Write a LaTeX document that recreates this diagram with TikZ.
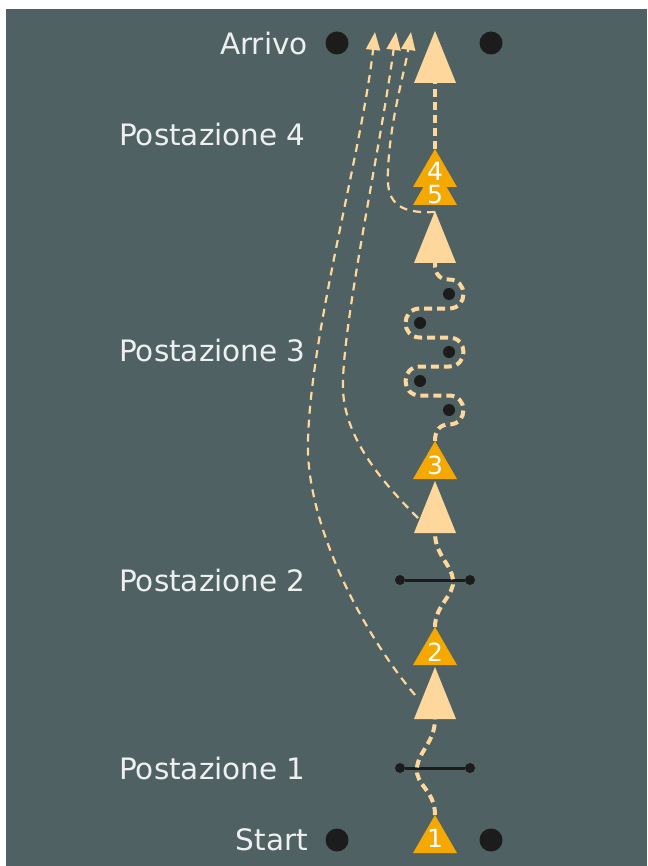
\documentclass[tikz,border=0pt]{standalone}
\usepackage{fontspec}
\setmainfont{DejaVu Sans}
\usepackage{tikz}
\usetikzlibrary{arrows.meta, calc}
\definecolor{board}{HTML}{4F6163}
\definecolor{cream}{HTML}{FDD79B}
\definecolor{amber}{HTML}{F5A900}
\definecolor{ink}{HTML}{1C1C1C}
\definecolor{chalk}{HTML}{EEF0F0}
% cone with its base centre at #1
\newcommand{\bigcone}[1]{\fill[cream] ($(#1)+(-21,0)$) -- ++(42,0) -- ($(#1)+(0,-52)$) -- cycle;}
\newcommand{\numcone}[1]{\fill[amber] ($(#1)+(-22,0)$) -- ++(44,0) -- ($(#1)+(0,-38)$) -- cycle;}

\begin{document}
\begin{tikzpicture}[x=1pt,y=-1pt,
  route/.style={cream, line width=4pt, dash pattern=on 8pt off 5pt},
  shortcut/.style={cream, line width=2.2pt, dash pattern=on 8pt off 6pt, -{Triangle[width=14pt,length=18pt]}},
  lbl/.style={chalk, font=\fontsize{29.5}{34}\selectfont, inner sep=0pt},
  num/.style={white, font=\fontsize{25}{30}\selectfont, inner sep=0pt},
  post/.style={circle, fill=ink, inner sep=0pt, minimum size=23pt},
  pin/.style={circle, fill=ink, inner sep=0pt, minimum size=10pt},
  pole/.style={circle, fill=ink, inner sep=0pt, minimum size=12pt}]

  \useasboundingbox (0,0) rectangle (647,866);
  \fill[board] (6,9) rectangle (647,866);

  % station labels
  \node[lbl, anchor=east] (arrivo) at (308,44) {Arrivo};
  \node[lbl, anchor=west] (post4) at (119,135) {Postazione 4};
  \node[lbl, anchor=west] (post3) at (119,351) {Postazione 3};
  \node[lbl, anchor=west] (post2) at (119,580) {Postazione 2};
  \node[lbl, anchor=west] (post1) at (119,768) {Postazione 1};
  \node[lbl, anchor=east] (start) at (308,840) {Start};

  % gates
  \node[post] (arrL) at (337,43) {};
  \node[post] (arrR) at (491,43) {};
  \node[post] (stL) at (337,840) {};
  \node[post] (stR) at (491,840) {};

  % bars
  \node[pin] (b1l) at (400,768) {};
  \node[pin] (b1r) at (470,768) {};
  \node[pin] (b2l) at (400,580) {};
  \node[pin] (b2r) at (470,580) {};
  \draw[ink, line width=3pt] (b1l) -- (b1r);
  \draw[ink, line width=3pt] (b2l) -- (b2r);

  % slalom poles
  \foreach \y in {294,352,410}
    \node[pole] (sr\y) at (449,\y) {};
  \foreach \y in {323,381}
    \node[pole] (sl\y) at (420,\y) {};

  % cone bases
  \coordinate (c1) at (435,853);
  \coordinate (c2) at (435,665);
  \coordinate (c3) at (435,479);
  \coordinate (c4) at (435,187);
  \coordinate (c5) at (435,205);
  \coordinate (bigA) at (435,719);
  \coordinate (bigB) at (435,533);
  \coordinate (bigC) at (435,263);
  \coordinate (bigD) at (435,83);
  % cone tips
  \coordinate (c1top) at (435,815);
  \coordinate (c2top) at (435,627);
  \coordinate (c3top) at (435,441);
  \coordinate (c4top) at (435,149);
  \coordinate (split) at (435,212);
  \coordinate (outA) at (415,695);
  \coordinate (outB) at (418,518);
  \coordinate (endA) at (375,32);
  \coordinate (endB) at (396,32);
  \coordinate (endC) at (411,32);

  % main route
  \draw[route] (c1top) .. controls (435,790) and (415,785) .. (417,768)
    .. controls (418,752) and (435,742) .. (bigA);
  \draw[route] (c2top) .. controls (435,605) and (455,595) .. (453,580)
    .. controls (452,565) and (435,555) .. (bigB);
  \draw[route] (c3top) .. controls (435,430) and (440,424.5) .. (449,424.5)
    .. controls (468.3,424.5) and (468.3,395.5) .. (449,395.5) -- (420,395.5)
    .. controls (400.7,395.5) and (400.7,366.5) .. (420,366.5) -- (449,366.5)
    .. controls (468.3,366.5) and (468.3,337.5) .. (449,337.5) -- (420,337.5)
    .. controls (400.7,337.5) and (400.7,308.5) .. (420,308.5) -- (449,308.5)
    .. controls (468.3,308.5) and (468.3,279.5) .. (449,279.5)
    .. controls (440,279.5) and (435,275) .. (bigC);
  \draw[route] (c4top) -- (bigD);

  % shortcuts
  \draw[shortcut] (outA) .. controls (360,630) and (305,520) .. (308,440)
    .. controls (311,330) and (362,150) .. (endA);
  \draw[shortcut] (outB) .. controls (385,485) and (345,440) .. (343,390)
    .. controls (341,330) and (380,150) .. (endB);
  \draw[shortcut] (split) .. controls (395,214) and (386,200) .. (388,170)
    .. controls (390,120) and (405,70) .. (endC);

  % cones
  \bigcone{bigA}
  \bigcone{bigB}
  \bigcone{bigC}
  \bigcone{bigD}
  \numcone{c1}
  \numcone{c2}
  \numcone{c3}
  \numcone{c5}
  \numcone{c4}
  \node[num] (n1) at ($(c1)+(0,-15)$) {1};
  \node[num] (n2) at ($(c2)+(0,-13)$) {2};
  \node[num] (n3) at ($(c3)+(0,-14)$) {3};
  \node[num] (n4) at ($(c4)+(0,-16)$) {4};
  \node[num] (n5) at ($(c5)+(0,-10)$) {5};
\end{tikzpicture}
\end{document}
